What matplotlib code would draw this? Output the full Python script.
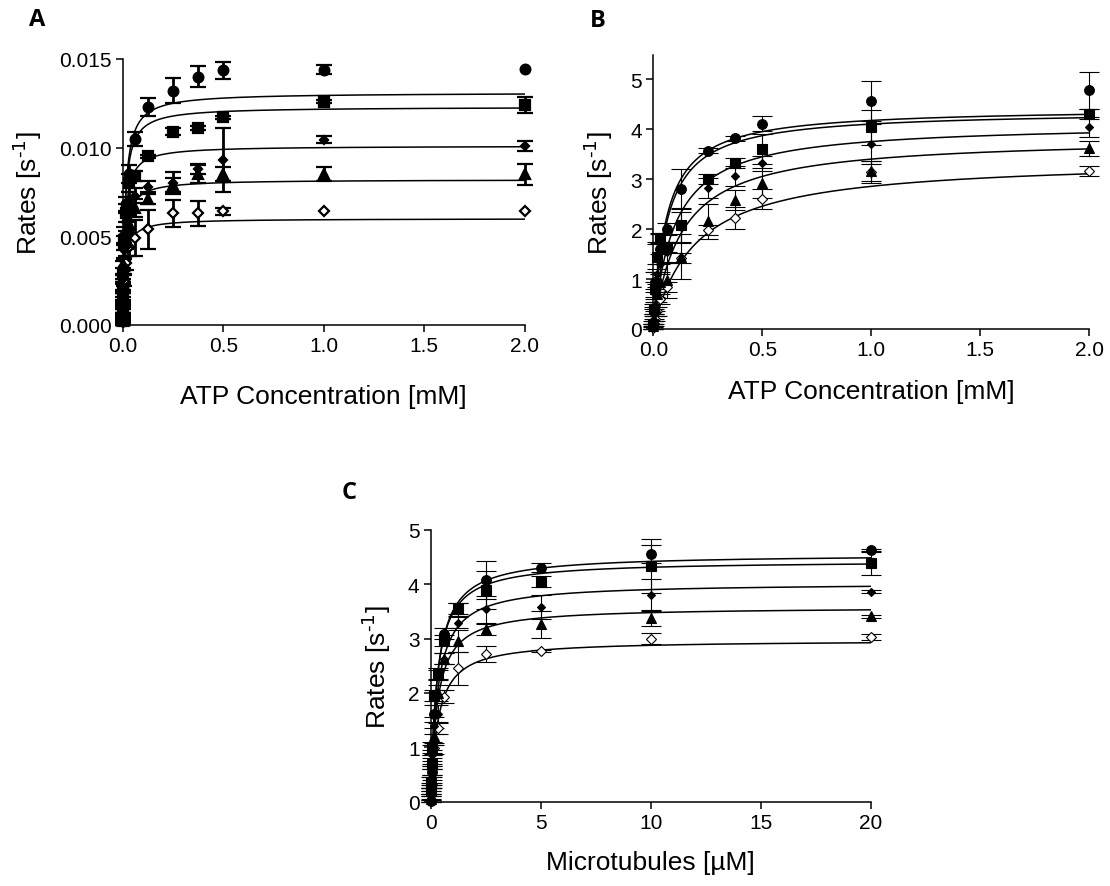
import numpy as np
import matplotlib.pyplot as plt

plt.rcParams["font.family"] = ["Liberation Sans", "DejaVu Sans"]

nan = float("nan")  # no error bar drawn for that point

# ---- panel A: ATP titration (rates in s^-1) ----
atp_a = [0, 0.00098, 0.00195, 0.0039, 0.0078, 0.0156, 0.03125, 0.0625, 0.125, 0.25, 0.375, 0.5, 1.0, 2.0]
a_circle = [0.0002, 0.0011, 0.0021, 0.0032, 0.0050, 0.0068, 0.0085, 0.0105, 0.0123, 0.0132, 0.0140, 0.01435, 0.0144, 0.01445]
a_circle_err = [0.0002, 0.0002, 0.0003, 0.0004, 0.0005, 0.0004, 0.0005, 0.0004, 0.0005, 0.0007, 0.0006, 0.0005, 0.00025, nan]
a_square = [0.0003, 0.0009, 0.0018, 0.0029, 0.0046, 0.0063, 0.0080, 0.0084, 0.0095, 0.0109, 0.0111, 0.0117, 0.0126, 0.0124]
a_square_err = [0.0002, 0.0002, 0.0002, 0.0003, 0.0004, 0.0005, 0.0005, 0.0003, 0.0001, 0.0002, 0.0001, 0.0001, 0.0001, 0.00045]
a_diamond = [0.0001, 0.0008, 0.0015, 0.0026, 0.0042, 0.0058, 0.0070, 0.0073, 0.0078, 0.0080, 0.0088, 0.0093, 0.01045, 0.0101]
a_diamond_err = [0.0001, 0.0002, 0.0003, 0.0003, 0.0004, 0.0005, 0.0005, 0.0004, 0.0003, 0.0006, 0.0003, 0.0018, 0.0002, 0.0003]
a_triangle = [0.0002, 0.0007, 0.0012, 0.0021, 0.0033, 0.0047, 0.0057, 0.0066, 0.0071, 0.0079, 0.0085, 0.0085, 0.0085, 0.0085]
a_triangle_err = [0.0002, 0.0002, 0.0002, 0.0003, 0.0004, 0.0004, 0.0005, 0.0005, 0.0003, 0.0004, 0.0005, 0.0004, 0.0004, 0.0006]
a_open = [0.0002, 0.0005, 0.0009, 0.0016, 0.0025, 0.0035, 0.0044, 0.0049, 0.0054, 0.0063, 0.0063, 0.0064, 0.0064, 0.0064]
a_open_err = [0.0002, 0.0002, 0.0002, 0.0003, 0.0003, 0.0004, 0.0005, 0.0010, 0.0011, 0.00075, 0.0007, 0.0002, nan, nan]
a_vmax = [0.0131, 0.0123, 0.0101, 0.0082, 0.0060]
a_km = [0.012, 0.011, 0.010, 0.011, 0.011]

# ---- panel B: ATP titration ----
atp_b = [0, 0.0039, 0.0078, 0.0156, 0.03125, 0.0625, 0.125, 0.25, 0.375, 0.5, 1.0, 2.0]
b_circle = [0.05, 0.35, 0.95, 1.45, 1.6, 2.0, 2.81, 3.57, 3.82, 4.11, 4.57, 4.78]
b_circle_err = [0.05, 0.1, 0.2, 0.3, 0.3, 0.12, 0.4, 0.05, 0.05, 0.15, 0.4, 0.37]
b_square = [0.1, 0.4, 0.8, 1.45, 1.83, 1.65, 2.08, 3.0, 3.32, 3.61, 4.04, 4.30]
b_square_err = [0.05, 0.1, 0.15, 0.25, 0.1, 0.1, 0.35, 0.1, 0.1, 0.3, 0.35, 0.1]
b_diamond = [0.05, 0.3, 0.7, 1.1, 1.3, 1.55, 2.05, 2.83, 3.07, 3.32, 3.71, 4.04]
b_diamond_err = [0.05, 0.1, 0.1, 0.2, 0.2, 0.2, 0.3, 0.2, 0.2, 0.15, 0.4, 0.2]
b_triangle = [0.05, 0.2, 0.45, 0.7, 0.95, 0.98, 1.45, 2.16, 2.59, 2.92, 3.17, 3.62]
b_triangle_err = [0.05, 0.1, 0.1, 0.15, 0.2, 0.35, 0.45, 0.35, 0.2, 0.3, 0.2, 0.15]
b_open = [0.02, 0.1, 0.2, 0.35, 0.6, 0.85, 1.43, 1.99, 2.22, 2.61, 3.15, 3.17]
b_open_err = [0.02, 0.05, 0.05, 0.1, 0.1, 0.1, 0.1, 0.1, 0.22, 0.2, 0.22, 0.1]
b_vmax = [4.43, 4.37, 4.12, 3.84, 3.41]
b_km = [0.060, 0.064, 0.097, 0.128, 0.193]

# ---- panel C: microtubule titration ----
mt_c = [0, 0.0195, 0.039, 0.078, 0.156, 0.3125, 0.625, 1.25, 2.5, 5, 10, 20]
c_circle = [0.02, 0.3, 0.55, 0.95, 1.62, 2.33, 3.09, 3.55, 4.08, 4.30, 4.55, 4.62]
c_circle_err = [0.02, 0.05, 0.1, 0.1, 0.15, 0.1, 0.1, 0.1, 0.35, 0.08, 0.17, 0.03]
c_square = [0.2, 0.35, 0.7, 1.0, 1.96, 2.35, 2.97, 3.54, 3.89, 4.04, 4.33, 4.38]
c_square_err = [0.05, 0.1, 0.1, 0.1, 0.1, 0.1, 0.1, 0.12, 0.35, 0.1, 0.5, 0.22]
c_diamond = [0.1, 0.25, 0.5, 0.85, 1.4, 1.62, 2.63, 3.29, 3.54, 3.58, 3.80, 3.86]
c_diamond_err = [0.05, 0.05, 0.1, 0.1, 0.15, 0.15, 0.1, 0.1, 0.25, 0.22, 0.3, 0.03]
c_triangle = [0.05, 0.2, 0.4, 0.75, 1.2, 2.0, 2.63, 2.96, 3.17, 3.26, 3.38, 3.41]
c_triangle_err = [0.05, 0.05, 0.1, 0.1, 0.15, 0.15, 0.1, 0.2, 0.1, 0.25, 0.15, 0.03]
c_open = [0.02, 0.15, 0.3, 0.6, 0.98, 1.35, 1.93, 2.45, 2.71, 2.77, 3.00, 3.03]
c_open_err = [0.02, 0.05, 0.05, 0.1, 0.1, 0.1, 0.12, 0.3, 0.15, 0.02, 0.1, 0.06]
c_vmax = [4.55, 4.43, 4.02, 3.58, 2.97]
c_km = [0.30, 0.28, 0.31, 0.30, 0.33]

# marker, face colour, size for the five constructs
markers = ["o", "s", "D", "^", "D"]
faces = ["black", "black", "black", "black", "white"]
sizes = [7, 6.5, 4.5, 6.5, 5.5]

ylab = r"Rates [s$^{\text{-}1}$]"


def panel(ax, x, ys, errs, vmax, km, xmax, ymax, heavy):
    xs = np.linspace(0, xmax, 600)
    for v, k in zip(vmax, km):
        ax.plot(xs, v * xs / (k + xs), color="black", lw=1.1, zorder=2)
    # open symbols first so the filled ones sit on top, as in the original
    for i in [4, 3, 2, 1, 0]:
        cont = ax.errorbar(x, ys[i], yerr=errs[i], fmt=markers[i], ms=sizes[i],
                           mfc=faces[i], mec="black", mew=1.6 if heavy else 0.8,
                           ecolor="black", elinewidth=2.0 if heavy else 0.8,
                           capsize=6 if heavy else 7, capthick=2.0 if heavy else 0.8,
                           zorder=3)
        for art in cont.lines[0:1] + cont.lines[1] + cont.lines[2]:
            art.set_clip_on(False)
    ax.set_xlim(0, xmax)
    ax.set_ylim(0, ymax)
    ax.spines["top"].set_visible(False)
    ax.spines["right"].set_visible(False)
    for s in ["left", "bottom"]:
        ax.spines[s].set_linewidth(1.1)
    ax.tick_params(direction="out", length=5, width=1.1, labelsize=15, pad=3)
    ax.set_ylabel(ylab, fontsize=19, labelpad=11)


fig = plt.figure(figsize=(11.1, 8.87), dpi=100)

ax_a = fig.add_axes([0.1105, 0.6325, 0.3624, 0.2999])
panel(ax_a, atp_a, [a_circle, a_square, a_diamond, a_triangle, a_open],
      [a_circle_err, a_square_err, a_diamond_err, a_triangle_err, a_open_err],
      a_vmax, a_km, 2.0, 0.015, True)
ax_a.set_xticks([0, 0.5, 1.0, 1.5, 2.0])
ax_a.set_xticklabels(["0.0", "0.5", "1.0", "1.5", "2.0"])
ax_a.set_yticks([0, 0.005, 0.010, 0.015])
ax_a.set_yticklabels(["0.000", "0.005", "0.010", "0.015"])
ax_a.set_xlabel("ATP Concentration [mM]", fontsize=19, labelpad=21)

ax_b = fig.add_axes([0.5886, 0.628, 0.3925, 0.3094])
panel(ax_b, atp_b, [b_circle, b_square, b_diamond, b_triangle, b_open],
      [b_circle_err, b_square_err, b_diamond_err, b_triangle_err, b_open_err],
      b_vmax, b_km, 2.0, 5.5, False)
ax_b.set_xticks([0, 0.5, 1.0, 1.5, 2.0])
ax_b.set_xticklabels(["0.0", "0.5", "1.0", "1.5", "2.0"])
ax_b.set_yticks([0, 1, 2, 3, 4, 5])
ax_b.set_xlabel("ATP Concentration [mM]", fontsize=19, labelpad=14)

ax_c = fig.add_axes([0.388, 0.095, 0.3964, 0.3067])
panel(ax_c, mt_c, [c_circle, c_square, c_diamond, c_triangle, c_open],
      [c_circle_err, c_square_err, c_diamond_err, c_triangle_err, c_open_err],
      c_vmax, c_km, 20, 5, False)
ax_c.set_xticks([0, 5, 10, 15, 20])
ax_c.set_yticks([0, 1, 2, 3, 4, 5])
ax_c.set_xlabel("Microtubules [\u00b5M]", fontsize=19, labelpad=13)

for lab, (px, py) in zip(["A", "B", "C"], [(37, 20), (598, 21), (349, 493)]):
    fig.text(px / 1110, 1 - py / 887, lab, fontsize=17, fontweight="bold",
             family=["Open Sans", "DejaVu Sans"], ha="center", va="center")

fig.savefig("out.png", dpi=100)
